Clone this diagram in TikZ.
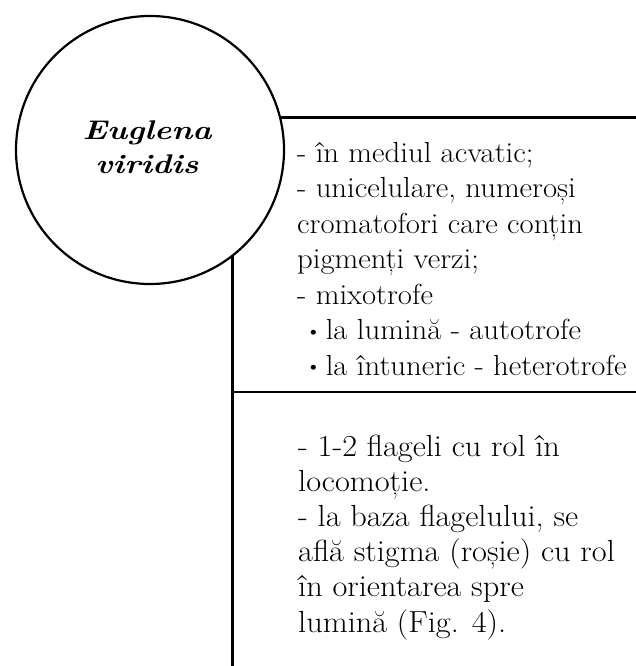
\documentclass[tikz,border=0pt]{standalone}
\usepackage{fontspec}
\setmainfont{Latin Modern Roman}[FakeStretch=1.06]
\newfontfamily\titlefont{Latin Modern Roman}[FakeStretch=1.2]
\newcommand{\blt}{\hspace{8pt}\raisebox{1.5pt}{\scalebox{0.75}{\textbullet}}\hspace{4pt}}
\begin{document}
\begin{tikzpicture}[x=1pt,y=-1pt,
  rule/.style={line width=2.2pt,black},
  body/.style={anchor=base west,align=left,inner sep=0pt,
    font=\fontsize{29}{35.5}\selectfont},
  bodylarge/.style={body,font=\fontsize{30.5}{35.2}\selectfont},
  title/.style={align=center,inner sep=0pt,
    font=\titlefont\fontsize{27}{33.4}\selectfont\bfseries\itshape}]
\useasboundingbox (0,0) rectangle (636,666);
\node[circle,draw,rule,minimum size=268pt,inner sep=0pt,outer sep=0pt] (c) at (150,150) {};
\node[title,anchor=base] (t) at (147,173) {Euglena\\viridis};
\coordinate (tr) at (636,117);
\coordinate (bl) at (231,666);
\coordinate (ml) at (231,392);
\coordinate (mr) at (636,392);
\draw[rule] (c.14.3) -- (c.14.3 -| tr);
\draw[rule] (c.-52.8) -- (c.-52.8 |- bl);
\draw[rule] (ml) -- (mr);
\node[body] (b1) at (297,375) {- în mediul acvatic;\\
- unicelulare, numeroși\\
cromatofori care conțin\\
pigmenți verzi;\\
- mixotrofe\\
\blt la lumină - autotrofe\\
\blt la întuneric - heterotrofe};
\node[bodylarge] (b2) at (298,632) {- 1-2 flageli cu rol în\\
locomoție.\\
- la baza flagelului, se\\
află stigma (roșie) cu rol\\
în orientarea spre\\
lumină (Fig. 4).};
\end{tikzpicture}
\end{document}
